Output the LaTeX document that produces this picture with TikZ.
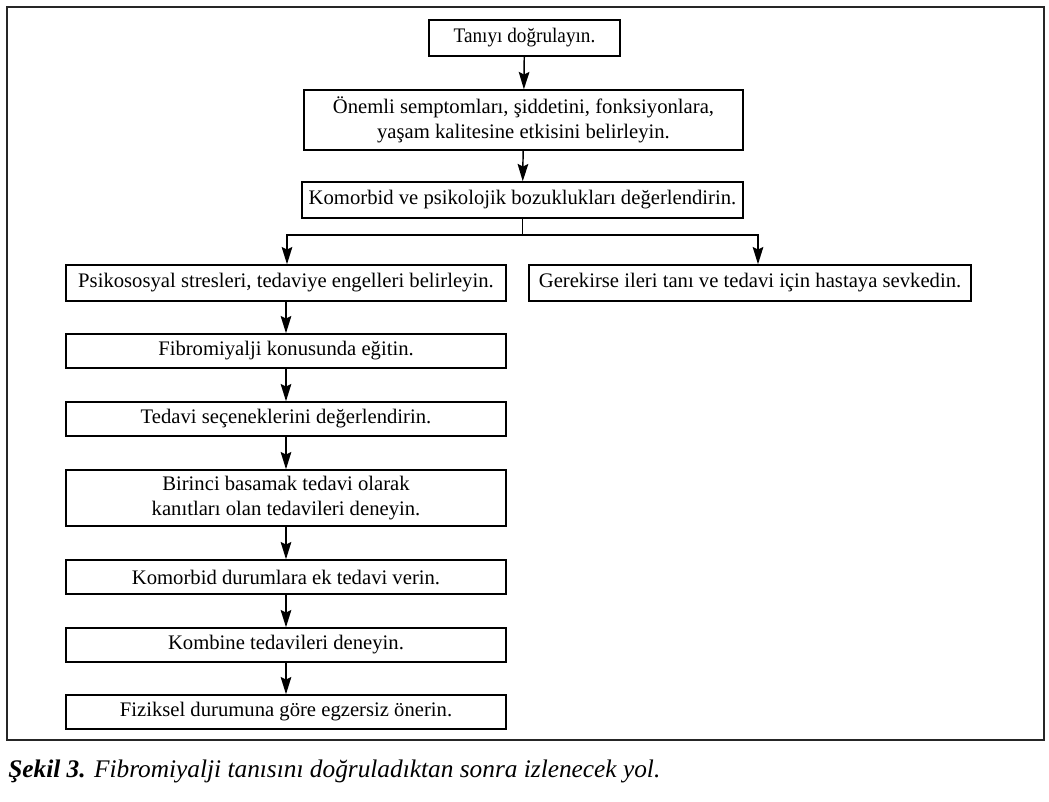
\documentclass[tikz,border=0pt]{standalone}
\usepackage{fontspec}
\setmainfont{Liberation Serif}
\usetikzlibrary{arrows.meta}
\begin{document}
\begin{tikzpicture}[x=0.75pt,y=-0.75pt,
  box/.style={draw=black, line width=1.1pt, inner sep=2pt, align=center,
    font=\fontsize{15.5}{19}\selectfont, minimum height=#1*0.75pt},
  box/.default=36,
  conn/.style={line width=1.1pt, -{Stealth[length=13pt,width=8pt,inset=2pt]}},
  plain/.style={line width=1.1pt}]
\useasboundingbox (0,0) rectangle (1049,802);
\draw[line width=1.1pt, draw=black!85] (7,7) rectangle (1044,740);

\node[box, minimum width=191*0.75pt, font=\fontsize{15.5}{19}\selectfont\addfontfeatures{FakeStretch=0.93}] (b1) at (524.5,38) {Tanıyı doğrulayın.};
\node[box=60, minimum width=439*0.75pt] (b2) at (523.5,120) {Önemli semptomları, şiddetini, fonksiyonlara,\\yaşam kalitesine etkisini belirleyin.};
\node[box, minimum width=441*0.75pt] (b3) at (522.5,200) {Komorbid ve psikolojik bozuklukları değerlendirin.};
\node[box, minimum width=440*0.75pt] (b4) at (286,283) {Psikososyal stresleri, tedaviye engelleri belirleyin.};
\node[box, minimum width=442*0.75pt] (b5) at (750,283) {Gerekirse ileri tanı ve tedavi için hastaya sevkedin.};
\node[box=34, minimum width=440*0.75pt] (b6) at (286,351) {Fibromiyalji konusunda eğitin.};
\node[box=34, minimum width=440*0.75pt] (b7) at (286,419) {Tedavi seçeneklerini değerlendirin.};
\node[box=56, minimum width=440*0.75pt] (b8) at (286,498) {Birinci basamak tedavi olarak\\kanıtları olan tedavileri deneyin.};
\node[box=34, minimum width=440*0.75pt] (b9) at (286,577) {Komorbid durumlara ek tedavi verin.};
\node[box=34, minimum width=440*0.75pt] (b10) at (286,645) {Kombine tedavileri deneyin.};
\node[box=34, minimum width=440*0.75pt] (b11) at (286,712) {Fiziksel durumuna göre egzersiz önerin.};

\coordinate (split) at (522.5,235);
\coordinate (sl) at (287,235);
\coordinate (sr) at (758,235);
\coordinate (t5) at (758,265);

\draw[conn] (b1) -- (b2);
\draw[conn] (b2) -- (b3);
\draw[plain] (b3.south) -- (split);
\draw[conn] (split) -- (sl) -- (b4.north -| sl);
\draw[conn] (split) -- (sr) -- (t5 |- b5.north);
\draw[conn] (b4) -- (b6);
\draw[conn] (b6) -- (b7);
\draw[conn] (b7) -- (b8);
\draw[conn] (b8) -- (b9);
\draw[conn] (b9) -- (b10);
\draw[conn] (b10) -- (b11);

\node[anchor=base west, inner sep=0pt, font=\fontsize{19}{22}\selectfont\itshape] (cap) at (8,777)
  {\textbf{Şekil 3.} Fibromiyalji tanısını doğruladıktan sonra izlenecek yol.};
\end{tikzpicture}
\end{document}
